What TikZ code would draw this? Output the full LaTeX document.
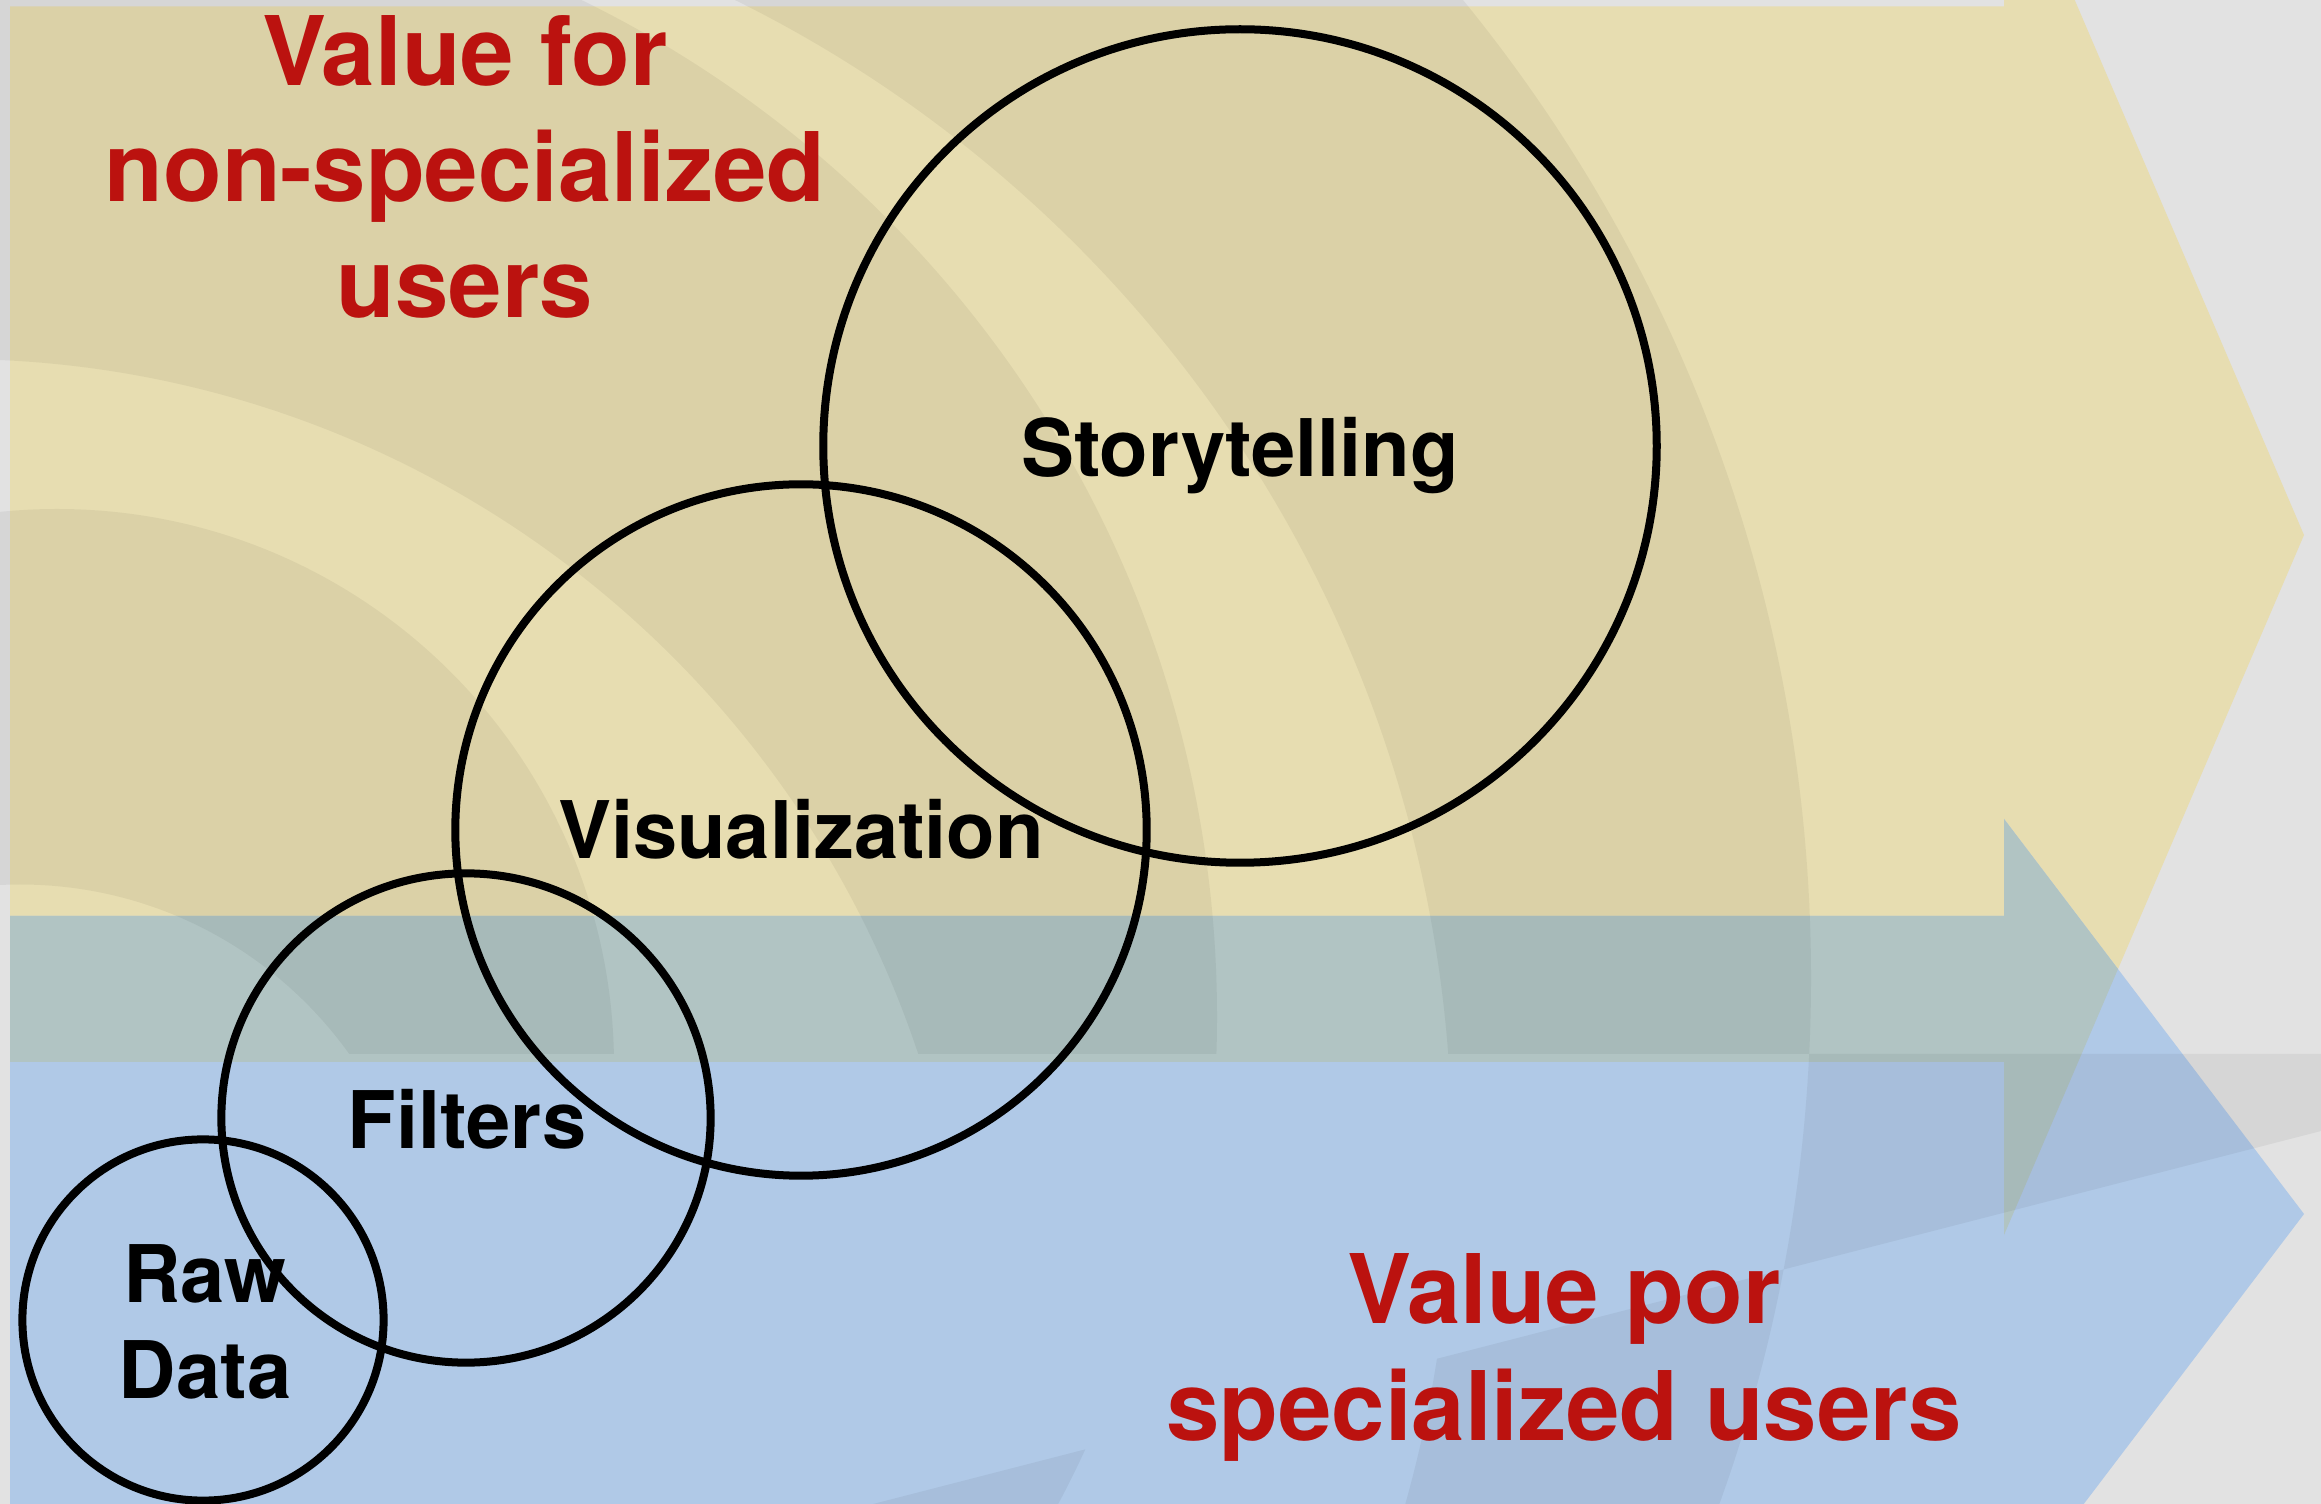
\documentclass[tikz,border=0pt]{standalone}
\usepackage{fontspec}
\setmainfont{TeX Gyre Heros}
\definecolor{bgG}{HTML}{E2E2E2}
\definecolor{yelA}{HTML}{E7DDB1}
\definecolor{bluA}{HTML}{B0C9E7}
\definecolor{ovl}{HTML}{B1C4C3}
\definecolor{redT}{HTML}{BB120F}
\begin{document}
\begin{tikzpicture}[x=0.01cm,y=-0.01cm,
  circ/.style={circle,draw=black,line width=0.08cm,inner sep=0pt},
  lbl/.style={font=\bfseries\fontsize{22.6pt}{27.3pt}\selectfont,text=black,inner sep=0pt,align=center},
  ttl/.style={font=\bfseries\fontsize{27.3pt}{33pt}\selectfont,text=redT,inner sep=0pt,align=center},
  shadeband/.style={fill=black,fill opacity=0.05,even odd rule}]
\useasboundingbox (0,0) rectangle (2321,1504);
\clip (0,0) rectangle (2321,1504);
% background
\fill[bgG] (0,0) rectangle (2321,1504);
% yellow arrow
\fill[yelA] (10,6.5) -- (2004,6.5) -- (2004,-165) -- (2304,535) -- (2004,1235) -- (2004,1062) -- (10,1062) -- cycle;
% blue arrow
\fill[bluA] (10,916) -- (2004,916) -- (2004,819) -- (2304,1214) -- (2004,1609) -- (2004,1512) -- (10,1512) -- cycle;
% overlap of the two arrows
\begin{scope}
  \clip (10,6.5) -- (2004,6.5) -- (2004,-165) -- (2304,535) -- (2004,1235) -- (2004,1062) -- (10,1062) -- cycle;
  \fill[ovl] (10,916) -- (2004,916) -- (2004,819) -- (2304,1214) -- (2004,1609) -- (2004,1512) -- (10,1512) -- cycle;
\end{scope}
% faint background arcs (upper zone)
\begin{scope}
  \clip (-10,-10) rectangle (2330,1054);
  \fill[shadeband] (263,978) circle[radius=1548] (167,1153) circle[radius=1285]
     (86,1017) circle[radius=1131] (-46,1375) circle[radius=1016]
     (57,1066) circle[radius=557] (20,1289) circle[radius=404.5];
\end{scope}
% middle zone
\begin{scope}
  \clip (-10,1054) -- (2330,1054) -- (2330,1128.7) -- (-10,1731.5) -- cycle;
  \fill[shadeband] (-20,1000) rectangle (2340,1800) (263,978) circle[radius=1548];
\end{scope}
% lower zone
\begin{scope}
  \clip (-10,1731.5) -- (2330,1128.7) -- (2330,1520) -- (-10,1520) -- cycle;
  \fill[shadeband] (263,978) circle[radius=1548] (200,1164) circle[radius=1252] (200,1045) circle[radius=973];
\end{scope}
% circles
\node[circ, minimum size=8.33cm] (story) at (1240,446) {};
\node[circ, minimum size=6.91cm] (vis) at (801,830) {};
\node[circ, minimum size=4.89cm] (filt) at (466,1118) {};
\node[circ, minimum size=3.61cm] (raw) at (203,1320) {};
% labels
\node[lbl, anchor=base] (storyL) at (1240,477) {Storytelling};
\node[lbl, anchor=base] (visL) at (801,859) {Visualization};
\node[lbl, anchor=base] (filtL) at (467,1149) {Filters};
\node[lbl, anchor=base] (rawL) at (205,1398) {Raw\\Data};
% titles
\node[ttl, anchor=base] (topT) at (465,317.5) {Value for\\non-specialized\\users};
\node[ttl, anchor=base] (botT) at (1564,1440) {Value por\\specialized users};
\end{tikzpicture}
\end{document}
